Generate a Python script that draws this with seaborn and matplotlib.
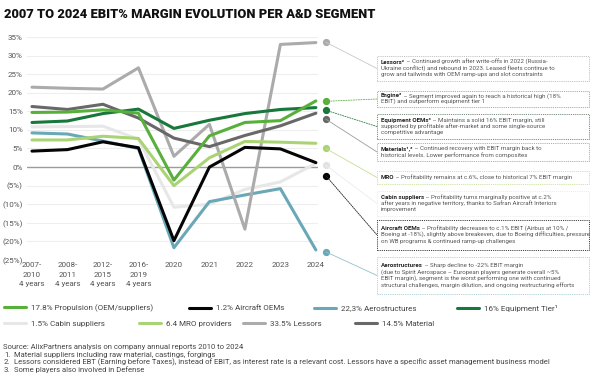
import numpy as np
import pandas as pd
import matplotlib
matplotlib.use("Agg")
import matplotlib.pyplot as plt
import seaborn as sns
from matplotlib.patches import Rectangle, ConnectionPatch
from matplotlib.ticker import FuncFormatter

# ---------------- data ----------------
periods = ["2007-\n2010\n4 years", "2008-\n2011\n4 years", "2012-\n2015\n4 years",
           "2016-\n2019\n4 years", "2020", "2021", "2022", "2023", "2024"]
propulsion = [14.7, 14.8, 15.4, 14.5, -3.5, 8.4, 12.0, 12.5, 17.8]
aircraft_oems = [4.3, 4.7, 6.8, 5.2, -19.8, 0.0, 5.3, 4.9, 1.2]
aerostructures = [9.2, 8.9, 7.0, 5.0, -21.7, -9.3, -7.5, -5.8, -22.3]
equipment_tier1 = [12.0, 12.4, 14.4, 15.6, 10.4, 12.6, 14.4, 15.5, 16.0]
cabin_suppliers = [10.8, 10.9, 11.0, 7.5, -10.8, -10.0, -6.0, -4.0, 1.0]
mro_providers = [7.3, 7.3, 8.3, 7.7, -5.0, 2.5, 6.9, 6.7, 6.4]
lessors = [21.5, 21.2, 21.0, 26.7, 2.9, 11.5, -16.7, 33.0, 33.5]
material = [16.3, 15.5, 16.9, 13.2, 7.8, 5.5, 8.5, 11.1, 14.5]

legend_labels = {
    "propulsion": "17.8% Propulsion (OEM/suppliers)",
    "aircraft_oems": "1.2% Aircraft OEMs",
    "aerostructures": "22,3% Aerostructures",
    "equipment_tier1": "16% Equipment Tier\u00b9",
    "cabin_suppliers": "1.5% Cabin suppliers",
    "mro_providers": "6.4 MRO providers",
    "lessors": "33.5% Lessors",
    "material": "14.5% Material",
}

title = "2007 TO 2024 EBIT% MARGIN EVOLUTION PER A&D SEGMENT"

callouts = [
    ("lessors", "Lessors\u00b2", " \u2013 Continued growth after write-offs in 2022 (Russia-",
     ["Ukraine conflict) and rebound in 2023. Leased fleets continue to",
      "grow and tailwinds with OEM ramp-ups and slot constraints"]),
    ("propulsion", "Engine\u00b3", " \u2013 Segment improved again to reach a historical high (18%",
     ["EBIT) and outperform equipment tier 1"]),
    ("equipment_tier1", "Equipment OEMs\u00b3", " \u2013 Maintains a solid 16% EBIT margin, still",
     ["supported by profitable after-market and some single-source",
      "competitive advantage"]),
    ("material", "Materials\u00b9,\u00b3", " \u2013 Continued recovery with EBIT margin back to",
     ["historical levels. Lower performance from composites"]),
    ("mro_providers", "MRO", " \u2013 Profitability remains at c.6%, close to historical 7% EBIT margin", []),
    ("cabin_suppliers", "Cabin suppliers", " \u2013 Profitability turns marginally positive at c.2%",
     ["after years in negative territory, thanks to Safran Aircraft Interiors",
      "improvement"]),
    ("aircraft_oems", "Aircraft OEMs", " \u2013 Profitability decreases to c.1% EBIT (Airbus at 10% /",
     ["Boeing at -18%), slightly above breakeven, due to Boeing difficulties, pressure",
      "on WB programs & continued ramp-up challenges"]),
    ("aerostructures", "Aerostructures", " \u2013 Sharp decline to -22% EBIT margin",
     ["(due to Spirit Aerospace \u2013 European players generate overall ~5%",
      "EBIT margin), segment is the worst performing one with continued",
      "structural challenges, margin dilution, and ongoing restructuring efforts"]),
]

footnotes = [
    ("", "Source: AlixPartners analysis on company annual reports 2010 to 2024"),
    ("1.", "Material suppliers including raw material, castings, forgings"),
    ("2.", "Lessors considered EBT (Earning before Taxes), instead of EBIT, as interest rate is a relevant cost. "
           "Lessors have a specific asset management business model"),
    ("3.", "Some players also involved in Defense"),
]

series = {
    "propulsion": propulsion, "aircraft_oems": aircraft_oems,
    "aerostructures": aerostructures, "equipment_tier1": equipment_tier1,
    "cabin_suppliers": cabin_suppliers, "mro_providers": mro_providers,
    "lessors": lessors, "material": material,
}

# ---------------- style ----------------
colors = {
    "propulsion": "#56b03a", "aircraft_oems": "#050505", "aerostructures": "#6aa7b7",
    "equipment_tier1": "#18773a", "cabin_suppliers": "#e7e7e7", "mro_providers": "#aad474",
    "lessors": "#ababab", "material": "#686868",
}
draw_order = ["cabin_suppliers", "aerostructures", "lessors", "mro_providers",
              "material", "aircraft_oems", "equipment_tier1", "propulsion"]

callout_dot_y = {"lessors": 33.6, "propulsion": 17.7, "equipment_tier1": 15.3, "material": 12.9,
                 "mro_providers": 5.0, "cabin_suppliers": 0.5, "aircraft_oems": -2.3,
                 "aerostructures": -22.8}
box_px = {"lessors": (56, 81), "propulsion": (91, 107), "equipment_tier1": (114, 139),
          "material": (143, 161), "mro_providers": (171, 184), "cabin_suppliers": (191, 216),
          "aircraft_oems": (220, 250), "aerostructures": (257, 294)}
box_edge = {"lessors": "#c4c4c4", "propulsion": "#8cc670", "equipment_tier1": "#7a8f80",
            "material": "#b0b0b0", "mro_providers": "#cfe3a8", "cabin_suppliers": "#ededed",
            "aircraft_oems": "#444444", "aerostructures": "#b3d2db"}
conn_style = {"lessors": ("#c8c8c8", "-"), "propulsion": ("#6ab04c", (0, (1.5, 1.5))),
              "equipment_tier1": ("#2f7a4a", (0, (1.5, 1.5))), "material": ("#9c9c9c", "-"),
              "mro_providers": ("#c4df96", "-"), "cabin_suppliers": ("#ececec", "-"),
              "aircraft_oems": ("#222222", (0, (1.5, 1.2))), "aerostructures": ("#93c0cc", "-")}

sns.set_theme(style="white")
plt.rcParams["font.family"] = ["Roboto", "DejaVu Sans"]

W, H = 602, 379
fig = plt.figure(figsize=(W / 100, H / 100), dpi=100)
fig.patch.set_facecolor("white")


def fx(px):
    return px / W


def fy(py):
    return 1 - py / H


ax = fig.add_axes([fx(27), fy(260), fx(318) - fx(27), (260 - 37) / H])
ax.set_facecolor("white")
x_idx = np.arange(len(periods))

for v in range(-20, 40, 5):
    ax.axhline(v, color="#9c9c9c" if v == 0 else "#eeeeee",
               lw=1.0 if v == 0 else 0.8, zorder=0)

lines = {}
for key in draw_order:
    sns.lineplot(x=x_idx, y=series[key], ax=ax, color=colors[key], lw=2.2,
                 label=legend_labels[key], legend=False)
    lines[key] = ax.lines[-1]

ax.set_xlim(-0.14, 8.06)
ax.set_ylim(-25, 35)
ax.set_yticks(range(-25, 40, 5))
ax.yaxis.set_major_formatter(FuncFormatter(
    lambda v, p: f"{v:.0f}%" if v >= 0 else f"({-v:.0f}%)"))
ax.set_xticks(x_idx)
ax.set_xticklabels(periods, linespacing=1.7)
ax.tick_params(axis="both", length=0, labelsize=5.8, colors="#555555")
ax.tick_params(axis="y", pad=3)
ax.tick_params(axis="x", pad=1.5)
for s in ax.spines.values():
    s.set_visible(False)
ax.set_xlabel("")
ax.set_ylabel("")

# title
fig.text(fx(4), fy(15), title, fontsize=9.3, fontweight="black", color="#111111",
         ha="left", va="center")

# callouts
dot_x = 8.28
box_left, box_right = 377, 589
line_step = 6.4
fs_box = 4.45
for key, bold, first, rest in callouts:
    dy = callout_dot_y[key]
    ax.plot([dot_x], [dy], marker="o", ms=4.2,
            color=colors[key] if key != "cabin_suppliers" else "#e2e2e2",
            clip_on=False, zorder=5)
    top, bot = box_px[key]
    mid = (top + bot) / 2
    c, ls = conn_style[key]
    con = ConnectionPatch(xyA=(dot_x, dy), coordsA=ax.transData,
                          xyB=(fx(box_left), fy(mid)), coordsB=fig.transFigure,
                          color=c, lw=0.6, linestyle=ls)
    fig.add_artist(con)
    rect = Rectangle((fx(box_left), fy(bot)), fx(box_right) - fx(box_left), (bot - top) / H,
                     transform=fig.transFigure, fill=False, ec=box_edge[key], lw=0.7,
                     linestyle=(0, (1.2, 1.0)))
    fig.add_artist(rect)
    n = 1 + len(rest)
    y0 = mid - (n - 1) * line_step / 2
    tb = fig.text(fx(box_left + 4), fy(y0), bold, fontsize=fs_box, fontweight="bold",
                  color="#222222", ha="left", va="center")
    ax.annotate(first, xy=(1, 0.5), xycoords=tb, fontsize=fs_box, color="#555555",
                ha="left", va="center", annotation_clip=False)
    for i, ln in enumerate(rest):
        fig.text(fx(box_left + 4), fy(y0 + (i + 1) * line_step), ln, fontsize=fs_box,
                 color="#555555", ha="left", va="center")

# legend (two rows, fixed slots)
legend_slots = [("propulsion", 4, 308), ("aircraft_oems", 189, 308), ("aerostructures", 314, 308),
                ("equipment_tier1", 457, 308), ("cabin_suppliers", 4, 324),
                ("mro_providers", 139, 324), ("lessors", 243, 324), ("material", 355, 324)]
for key, px, py in legend_slots:
    fig.legend([lines[key]], [legend_labels[key]], loc="center left",
               bbox_to_anchor=(fx(px), fy(py)), frameon=False, fontsize=5.8,
               handlelength=2.7, handletextpad=0.6, borderpad=0, borderaxespad=0,
               labelcolor="#444444")

# footnotes
foot_y = [347.5, 355, 362.5, 370]
for (num, txt), py in zip(footnotes, foot_y):
    if num:
        fig.text(fx(4), fy(py), num, fontsize=5.5, color="#444444", ha="left", va="center")
        fig.text(fx(14), fy(py), txt, fontsize=5.5, color="#444444", ha="left", va="center")
    else:
        fig.text(fx(3), fy(py), txt, fontsize=5.5, color="#444444", ha="left", va="center")

fig.savefig("out.png", dpi=100, facecolor="white")
